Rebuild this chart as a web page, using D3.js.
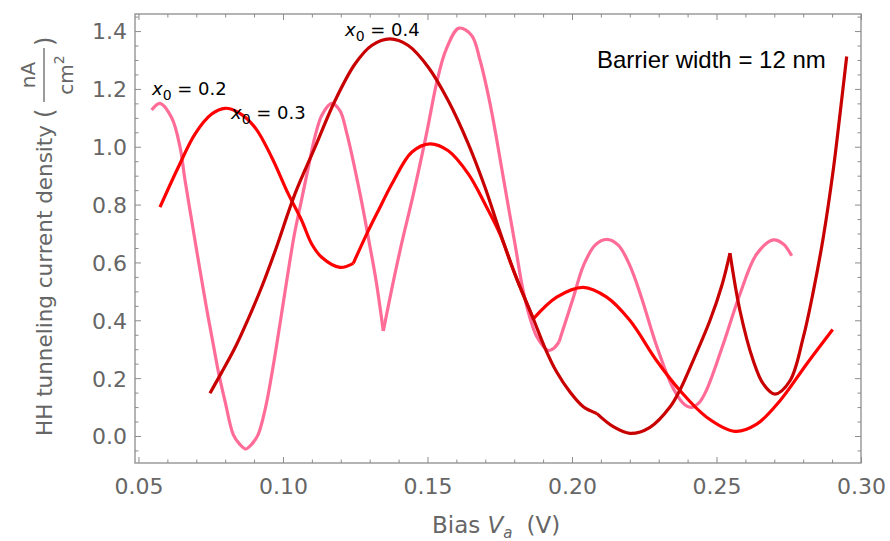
<!DOCTYPE html>
<html>
<head>
<meta charset="utf-8">
<script src="https://cdn.jsdelivr.net/npm/d3@7"></script>
<style>
  body { margin: 0; background: #fff; }
</style>
</head>
<body>
<svg id="chart" width="890" height="541"></svg>
<script>
// ---- data ----
// x0 = 0.2 (pink)
const x02Bias = [0.05457, 0.05744, 0.06149, 0.06436, 0.06610, 0.06850, 0.07100, 0.07350, 0.07600, 0.07780,
  0.08000, 0.08280, 0.08500, 0.08710, 0.08920, 0.09140, 0.09400, 0.09650, 0.09900, 0.10150,
  0.10400, 0.10650, 0.10900, 0.11107, 0.11349, 0.11685,
  0.11970, 0.12200, 0.12664, 0.13010, 0.13218, 0.13471,
  0.13772, 0.14118, 0.14498, 0.14972, 0.15318, 0.15640, 0.16090, 0.16529, 0.16817, 0.17163,
  0.17439, 0.17716, 0.18028, 0.18304, 0.18547, 0.18789, 0.19170, 0.19343, 0.19550,
  0.20050, 0.20400, 0.20800, 0.21200, 0.21600, 0.22000, 0.22400, 0.22900, 0.23500, 0.23900,
  0.24140, 0.24400, 0.24661, 0.25235, 0.25813, 0.26391, 0.26965, 0.27311, 0.27602];
const x02Current = [1.127, 1.150, 1.100, 1.000, 0.885, 0.740, 0.590, 0.445, 0.310, 0.215,
  0.118, 0.005, -0.028, -0.045, -0.028, 0.005, 0.100, 0.235, 0.390, 0.550,
  0.700, 0.820, 0.940, 1.035, 1.110, 1.150,
  1.125, 1.050, 0.839, 0.655, 0.539, 0.363,
  0.512, 0.671, 0.830, 1.048, 1.221, 1.335, 1.410, 1.385, 1.300, 1.150,
  1.000, 0.840, 0.664, 0.505, 0.408, 0.342, 0.296, 0.301, 0.325,
  0.480, 0.590, 0.660, 0.680, 0.660, 0.590, 0.480, 0.320, 0.165, 0.108,
  0.099, 0.115, 0.160, 0.318, 0.491, 0.629, 0.678, 0.664, 0.623];
const x02Corners = [0.13471, 0.19550];

// x0 = 0.3 (red)
const x03Bias = [0.05744, 0.06377, 0.06955, 0.07533, 0.07993, 0.08453, 0.09031, 0.09609, 0.10183, 0.10647,
  0.10993, 0.11339, 0.11972, 0.12433,
  0.12896, 0.13298, 0.13806, 0.14453, 0.15087, 0.15720, 0.16412, 0.16990, 0.17509, 0.17969, 0.18661,
  0.19471, 0.20391, 0.21201, 0.22007, 0.22931, 0.23737, 0.24661, 0.25640, 0.26391, 0.27197,
  0.28121, 0.29021];
const x03Current = [0.791, 0.929, 1.044, 1.113, 1.133, 1.119, 1.067, 0.964, 0.837, 0.745,
  0.664, 0.618, 0.583, 0.597,
  0.698, 0.779, 0.878, 0.981, 1.010, 0.986, 0.906, 0.802, 0.698, 0.574, 0.405,
  0.480, 0.514, 0.480, 0.399, 0.260, 0.157, 0.065, 0.016, 0.041, 0.122,
  0.249, 0.368];
const x03Corners = [0.12433, 0.18661];

// x0 = 0.4 (dark red)
const x04Bias = [0.07474, 0.07879, 0.08339, 0.08799, 0.09263, 0.09723, 0.10415, 0.11107, 0.11799, 0.12491,
  0.13069, 0.13702, 0.14336, 0.15028, 0.15720, 0.16412, 0.16990, 0.17509, 0.18062, 0.18651,
  0.19066, 0.19471, 0.19931, 0.20391, 0.20855,
  0.21429, 0.22007, 0.22700, 0.23390, 0.23740, 0.24080, 0.24780, 0.25190, 0.25467,
  0.25813, 0.26273, 0.26619, 0.27024, 0.27543, 0.28000, 0.28350, 0.28700, 0.29040, 0.29270,
  0.29505];
const x04Current = [0.148, 0.220, 0.305, 0.405, 0.515, 0.638, 0.837, 0.998, 1.159, 1.286,
  1.350, 1.373, 1.350, 1.275, 1.159, 1.010, 0.860, 0.705, 0.550, 0.408,
  0.304, 0.221, 0.152, 0.101, 0.078,
  0.032, 0.009, 0.030, 0.100, 0.160, 0.235, 0.401, 0.522, 0.632,
  0.433, 0.260, 0.180, 0.145, 0.191, 0.340, 0.500, 0.690, 0.920, 1.110,
  1.312];
const x04Corners = [0.20855, 0.25467];

const xMajor = [0.05, 0.10, 0.15, 0.20, 0.25, 0.30];
const xTickLabels = ["0.05", "0.10", "0.15", "0.20", "0.25", "0.30"];
const yMajor = [0.0, 0.2, 0.4, 0.6, 0.8, 1.0, 1.2, 1.4];
const yTickLabels = ["0.0", "0.2", "0.4", "0.6", "0.8", "1.0", "1.2", "1.4"];

const seriesNames = ["0.2", "0.3", "0.4"];
const seriesColors = ["#ff6c98", "#ff0000", "#c80000"];

// ---- chart ----
const svg = d3.select("#chart");
const frameColor = "#8c8c8c";
const labelColor = "#666";
const tickFont = "'DejaVu Sans', sans-serif";

const x = d3.scaleLinear().domain([0.0488, 0.30]).range([135, 861]);
const y = d3.scaleLinear().domain([-0.0934, 1.459]).range([463, 14]);

const xMinor = d3.range(0.05, 0.3001, 0.01).filter(v => !xMajor.some(m => Math.abs(m - v) < 1e-6));
const yMinor = d3.range(-0.05, 1.4501, 0.05).filter(v => !yMajor.some(m => Math.abs(m - v) < 1e-6));

function styleAxis(g) {
  g.select(".domain").remove();
  g.selectAll("line").attr("stroke", frameColor).attr("stroke-width", 1);
}

// bottom
svg.append("g").attr("transform", "translate(0,463)")
  .call(d3.axisBottom(x).tickValues(xMajor).tickSize(-6).tickSizeOuter(0)
    .tickFormat((d, i) => xTickLabels[i]))
  .call(styleAxis)
  .selectAll("text")
    .attr("y", 31).attr("dy", null)
    .attr("fill", labelColor).style("font", `22px ${tickFont}`);
svg.append("g").attr("transform", "translate(0,463)")
  .call(d3.axisBottom(x).tickValues(xMinor).tickSize(-3.5).tickSizeOuter(0).tickFormat(""))
  .call(styleAxis);

// top
svg.append("g").attr("transform", "translate(0,14)")
  .call(d3.axisTop(x).tickValues(xMajor).tickSize(-6).tickSizeOuter(0).tickFormat(""))
  .call(styleAxis);
svg.append("g").attr("transform", "translate(0,14)")
  .call(d3.axisTop(x).tickValues(xMinor).tickSize(-3.5).tickSizeOuter(0).tickFormat(""))
  .call(styleAxis);

// left
svg.append("g").attr("transform", "translate(135,0)")
  .call(d3.axisLeft(y).tickValues(yMajor).tickSize(-6).tickSizeOuter(0).tickPadding(8)
    .tickFormat((d, i) => yTickLabels[i]))
  .call(styleAxis)
  .selectAll("text")
    .attr("dy", "0.36em")
    .attr("fill", labelColor).style("font", `22px ${tickFont}`);
svg.append("g").attr("transform", "translate(135,0)")
  .call(d3.axisLeft(y).tickValues(yMinor).tickSize(-3.5).tickSizeOuter(0).tickFormat(""))
  .call(styleAxis);

// right
svg.append("g").attr("transform", "translate(861,0)")
  .call(d3.axisRight(y).tickValues(yMajor).tickSize(-6).tickSizeOuter(0).tickFormat(""))
  .call(styleAxis);
svg.append("g").attr("transform", "translate(861,0)")
  .call(d3.axisRight(y).tickValues(yMinor).tickSize(-3.5).tickSizeOuter(0).tickFormat(""))
  .call(styleAxis);

// frame
svg.append("rect")
  .attr("x", 135).attr("y", 14).attr("width", 726).attr("height", 449)
  .attr("fill", "none").attr("stroke", frameColor).attr("stroke-width", 1.3);

// curves, split where the curve has a corner
function segments(xs, ys, corners) {
  const segs = [[]];
  xs.forEach((v, i) => {
    const p = [v, ys[i]];
    segs[segs.length - 1].push(p);
    if (corners.includes(v)) segs.push([p]);
  });
  return segs.filter(s => s.length > 1);
}

const line = d3.line()
  .x(d => x(d[0]))
  .y(d => y(d[1]))
  .curve(d3.curveCatmullRom.alpha(0.5));

const allSeries = [
  segments(x02Bias, x02Current, x02Corners),
  segments(x03Bias, x03Current, x03Corners),
  segments(x04Bias, x04Current, x04Corners)
];

allSeries.forEach((segs, k) => {
  svg.append("g").selectAll("path")
    .data(segs)
    .enter().append("path")
      .attr("d", line)
      .attr("fill", "none")
      .attr("stroke", seriesColors[k])
      .attr("stroke-width", 3.2)
      .attr("stroke-linejoin", "round");
});

// series labels
const labelPos = [[152, 94.5], [231, 118.5], [345, 35.5]];
seriesNames.forEach((name, k) => {
  const t = svg.append("text")
    .attr("x", labelPos[k][0]).attr("y", labelPos[k][1])
    .style("font", `18px 'DejaVu Sans', sans-serif`).attr("fill", "#000");
  t.append("tspan").style("font-style", "italic").text("x");
  t.append("tspan").attr("dy", 5).style("font-size", "14px").text("0");
  t.append("tspan").attr("dy", -5).text(" = " + name);
});

svg.append("text")
  .attr("x", 597).attr("y", 68)
  .style("font", "24px 'Liberation Sans', Arial, sans-serif")
  .attr("fill", "#000")
  .text("Barrier width = 12 nm");

// x axis title
const xt = svg.append("text")
  .attr("x", 432).attr("y", 533)
  .style("font", `23px ${tickFont}`).attr("fill", labelColor);
xt.append("tspan").text("Bias ");
xt.append("tspan").style("font-style", "italic").text("V");
xt.append("tspan").attr("dy", 5).style("font-size", "15px").style("font-style", "italic").text("a");
xt.append("tspan").attr("dy", -5).attr("dx", 14).text("(V)");

// y axis title
const yt = svg.append("g").attr("transform", "translate(52,436) rotate(-90)");
yt.append("text").attr("x", 0).attr("y", 0)
  .style("font", `21.5px ${tickFont}`).attr("fill", labelColor)
  .text("HH tunneling current density");
yt.append("text").attr("x", 318).attr("y", 1)
  .style("font", `24px ${tickFont}`).attr("fill", labelColor).text("(");
yt.append("line")
  .attr("x1", 334).attr("x2", 388).attr("y1", -8).attr("y2", -8)
  .attr("stroke", labelColor).attr("stroke-width", 1.3);
yt.append("text").attr("x", 361).attr("y", -17).attr("text-anchor", "middle")
  .style("font", `20px ${tickFont}`).attr("fill", labelColor).text("nA");
const cm = yt.append("text").attr("x", 361).attr("y", 21).attr("text-anchor", "middle")
  .style("font", `20px ${tickFont}`).attr("fill", labelColor);
cm.append("tspan").text("cm");
cm.append("tspan").attr("dy", -9).style("font-size", "14px").text("2");
yt.append("text").attr("x", 390).attr("y", 1)
  .style("font", `24px ${tickFont}`).attr("fill", labelColor).text(")");
</script>
</body>
</html>
